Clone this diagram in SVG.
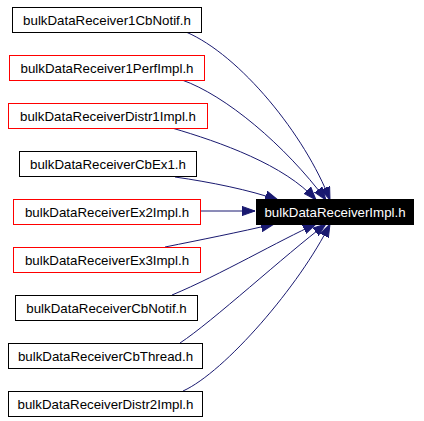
<svg xmlns="http://www.w3.org/2000/svg" width="424" height="421" viewBox="0 0 424 421">
<style>
  .n rect { fill: #ffffff; stroke-width: 1; }
  .b rect { stroke: #000000; }
  .r rect { stroke: #ff0000; }
  text { font-family: "Liberation Sans", Arial, Helvetica, sans-serif; font-size: 13.3px; text-anchor: middle; fill: #000000; }
  .e path { fill: none; stroke: #191970; stroke-width: 1; marker-end: url(#ah); }
  #target rect { fill: #000000; stroke: #000000; }
  #target text { fill: #ffffff; }
</style>
<defs>
  <marker id="ah" markerUnits="userSpaceOnUse" markerWidth="14" markerHeight="10" viewBox="0 0 14 10" refX="13" refY="5" orient="auto">
    <path d="M0,0.4 L13,5 L0,9.6 z" fill="#191970" stroke="#191970" stroke-width="1"/>
  </marker>
</defs>
<rect width="424" height="421" fill="#ffffff"/>
<g id="edges" class="e">
  <path d="M186,32 C240,55 305,135 330,200"/>
  <path d="M182,80 C225,95 285,145 326,200"/>
  <path d="M172,128 C220,142 285,165 316,200"/>
  <path d="M175,177 C210,182 250,190 278,200"/>
  <path d="M200,211 L255,211"/>
  <path d="M165,247 C200,240 240,232 274,224"/>
  <path d="M172,295 C220,275 280,240 316,224"/>
  <path d="M180,343 C212,322 285,255 326,224"/>
  <path d="M183,391 C225,372 300,285 330,224"/>
</g>
<g id="n1" class="n b"><rect x="12.5" y="7.5" width="189" height="25"/><text x="107" y="25">bulkDataReceiver1CbNotif.h</text></g>
<g id="n2" class="n r"><rect x="9.5" y="55.5" width="195" height="25"/><text x="107" y="73">bulkDataReceiver1PerfImpl.h</text></g>
<g id="n3" class="n r"><rect x="8.5" y="103.5" width="199" height="25"/><text x="108" y="121">bulkDataReceiverDistr1Impl.h</text></g>
<g id="n4" class="n b"><rect x="19.5" y="151.5" width="177" height="25"/><text x="108" y="169">bulkDataReceiverCbEx1.h</text></g>
<g id="n5" class="n r"><rect x="13.5" y="199.5" width="187" height="25"/><text x="107" y="217">bulkDataReceiverEx2Impl.h</text></g>
<g id="n6" class="n r"><rect x="13.5" y="247.5" width="187" height="25"/><text x="107" y="265">bulkDataReceiverEx3Impl.h</text></g>
<g id="n7" class="n b"><rect x="15.5" y="295.5" width="182" height="25"/><text x="106.5" y="313">bulkDataReceiverCbNotif.h</text></g>
<g id="n8" class="n b"><rect x="8.5" y="343.5" width="194" height="25"/><text x="105.5" y="361">bulkDataReceiverCbThread.h</text></g>
<g id="n9" class="n b"><rect x="8.5" y="391.5" width="194" height="25"/><text x="105.5" y="409">bulkDataReceiverDistr2Impl.h</text></g>
<g id="target" class="n"><rect x="256.5" y="199.5" width="157" height="25"/><text x="335" y="217">bulkDataReceiverImpl.h</text></g>
</svg>
